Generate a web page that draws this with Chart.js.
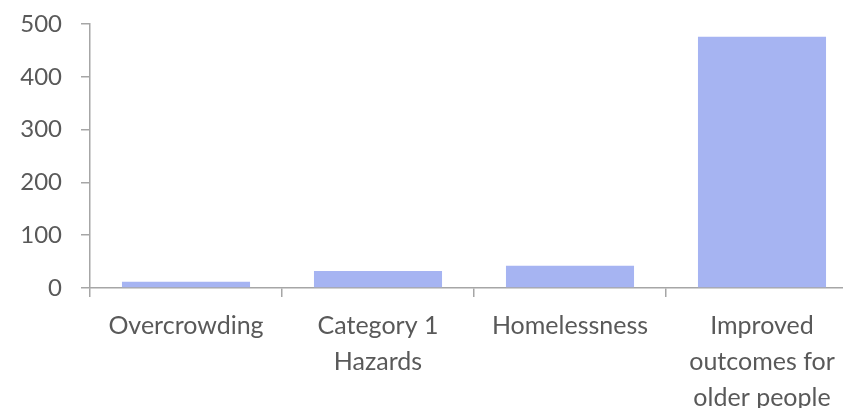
<!DOCTYPE html>
<html>
<head>
<meta charset="utf-8">
<script src="https://cdn.jsdelivr.net/npm/chart.js@4/dist/chart.umd.min.js"></script>
<style>
  html, body { margin: 0; padding: 0; background: #fff; overflow: hidden; }
  #wrap { position: relative; width: 870px; height: 408px; }
</style>
</head>
<body>
<div id="wrap"><canvas id="chart"></canvas></div>
<script>
const categories = ['Overcrowding', ['Category 1', 'Hazards'], 'Homelessness', ['Improved', 'outcomes for', 'older people']];
const values = [12, 32, 42, 476];
const yTicks = [0, 100, 200, 300, 400, 500];

const axisColor = '#a6a6a6';
const textColor = '#595959';
const fontFamily = 'Lato, "Open Sans", sans-serif';

const ctx = document.getElementById('chart').getContext('2d');
const myChart = new Chart(ctx, {
    type: 'bar',
    data: {
        labels: categories,
        datasets: [{
            data: values,
            backgroundColor: '#a6b4f2',
            borderWidth: 0,
            barPercentage: 0.667,
            categoryPercentage: 1
        }]
    },
    options: {
        responsive: true,
        maintainAspectRatio: false,
        animation: false,
        layout: { padding: { top: 24, left: 0, right: 12, bottom: 0 } },
        plugins: { legend: { display: false }, tooltip: { enabled: false } },
        scales: {
            x: {
                offset: true,
                grid: { offset: true, drawOnChartArea: false, color: axisColor, tickLength: 9, lineWidth: 1.5 },
                border: { color: axisColor, width: 1.5 },
                ticks: {
                    color: textColor,
                    font: { family: fontFamily, size: 25, lineHeight: 1.44 },
                    maxRotation: 0,
                    padding: 11
                },
                afterFit: function (scale) { scale.height = 120; }
            },
            y: {
                min: 0,
                max: 500,
                afterBuildTicks: function (scale) { scale.ticks = yTicks.map(v => ({ value: v })); },
                grid: { drawOnChartArea: false, color: axisColor, tickLength: 9, lineWidth: 1.5 },
                border: { color: axisColor, width: 1.5 },
                ticks: {
                    color: textColor,
                    font: { family: fontFamily, size: 24 },
                    padding: 19
                },
                afterFit: function (scale) {
                    scale.width = 90;
                    scale.paddingTop = 0;
                    scale.paddingBottom = 0;
                }
            }
        }
    }
});
</script>
</body>
</html>
